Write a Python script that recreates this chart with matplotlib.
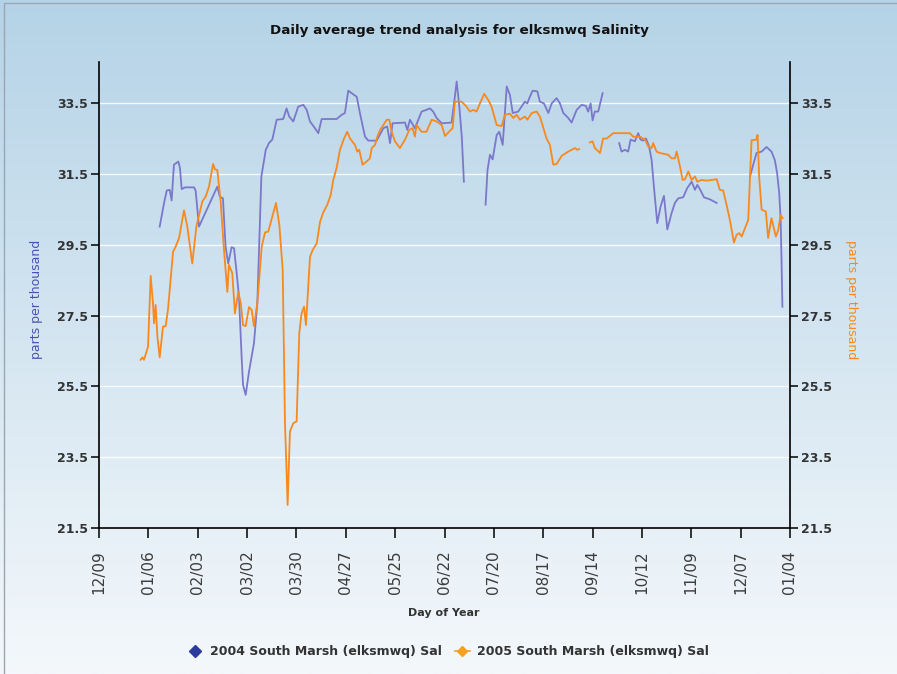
"""Daily average salinity trend chart (elksmwq, South Marsh 2004 vs 2005)."""

import matplotlib

matplotlib.use("Agg")
import matplotlib.pyplot as plt
from matplotlib.lines import Line2D
import numpy as np

nan = float("nan")

# x axis: days counted from 12/09, ticks every 28 days
tick_labels = ["12/09", "01/06", "02/03", "03/02", "03/30", "04/27", "05/25", "06/22",
               "07/20", "08/17", "09/14", "10/12", "11/09", "12/07", "01/04"]
y_ticks = [21.5, 23.5, 25.5, 27.5, 29.5, 31.5, 33.5]

# 2004 South Marsh (gaps marked with nan)
days_2004 = [34.4, 36.9, 38.4, 40.1, 41.2, 42.5, 45.0, 45.9, 46.9, 48.8,
             53.9, 54.8, 56.7, 67.1, 68.5, 70.3, 71.8, 73.3, 75.2, 76.6,
             77.9, 79.4, 80.9, 81.7, 83.2, 85.1, 87.9, 89.8, 92.1, 94.6,
             96.4, 98.3, 100.8, 104.5, 106.4, 107.9, 110.2, 113.0, 115.9, 117.8,
             119.7, 122.5, 124.4, 126.3, 134.8, 137.7, 139.5, 141.4, 143.3, 146.2,
             148.0, 150.9, 152.8, 157.5, 161.3, 163.5, 165.1, 166.5, 173.6, 174.9,
             176.4, 179.2, 183.0, 185.8, 187.7, 189.6, 191.5, 194.4, 200.0, 201.4,
             202.9, 204.4, 205.8, 207.0, 213.0,
             219.3, 220.4, 221.8, 223.3, 225.6, 227.1, 229.0, 231.3, 233.1, 234.7,
             237.8, 241.6, 243.0, 244.1, 246.0, 248.7, 250.1, 252.4, 254.9, 256.8,
             259.6, 261.5, 263.4, 266.2, 268.1, 271.0, 273.8, 276.2, 277.5, 278.9,
             280.0, 281.3, 283.2, 285.7, 290.0,
             295.1, 296.4, 298.4, 300.2, 301.6, 304.0, 305.9, 307.2, 308.7, 310.3,
             312.1, 313.5, 314.8, 316.7, 318.6, 320.5, 322.4, 324.8, 326.7, 328.6,
             331.4, 333.7, 336.2, 338.1, 339.4, 340.9, 343.2, 346.6, 350.4, 360.0,
             369.3, 373.0, 375.9, 378.7, 381.5, 383.4, 384.7, 385.9, 386.7, 387.2,
             387.7]
sal_2004 = [30.01, 30.68, 31.03, 31.05, 30.75, 31.76, 31.85, 31.67, 31.07, 31.12,
            31.12, 31.03, 30.01, 31.14, 30.86, 30.81, 29.45, 28.97, 29.43, 29.40,
            28.79, 28.04, 26.33, 25.54, 25.26, 25.92, 26.72, 27.85, 31.43, 32.18,
            32.37, 32.47, 33.03, 33.05, 33.35, 33.12, 32.98, 33.40, 33.45, 33.31,
            32.98, 32.79, 32.65, 33.05, 33.05, 33.17, 33.22, 33.85, 33.78, 33.68,
            33.22, 32.55, 32.44, 32.44, 32.79, 32.84, 32.37, 32.93, 32.95, 32.74,
            33.03, 32.79, 33.26, 33.31, 33.35, 33.26, 33.08, 32.93, 32.95, 33.49,
            34.11, 33.40, 32.55, 31.28, nan,
            30.63, 31.61, 32.04, 31.91, 32.60, 32.69, 32.32, 33.97, 33.73, 33.22,
            33.26, 33.54, 33.49, 33.64, 33.85, 33.83, 33.54, 33.49, 33.22, 33.49,
            33.64, 33.49, 33.22, 33.08, 32.95, 33.31, 33.45, 33.42, 33.26, 33.49,
            33.01, 33.26, 33.26, 33.78, nan,
            32.37, 32.13, 32.18, 32.13, 32.47, 32.42, 32.65, 32.47, 32.44, 32.50,
            32.27, 31.89, 31.14, 30.11, 30.58, 30.88, 29.93, 30.39, 30.68, 30.81,
            30.84, 31.10, 31.28, 31.05, 31.19, 31.07, 30.84, 30.78, 30.68, nan,
            31.43, 32.09, 32.13, 32.26, 32.13, 31.89, 31.52, 30.95, 30.20, 29.07,
            27.75]

# 2005 South Marsh
days_2005 = [23.6, 24.6, 25.5, 27.8, 29.3, 30.6, 31.2, 32.1, 33.1, 34.4,
             36.3, 37.8, 39.1, 42.0, 43.5, 45.4, 48.2, 50.1, 52.9, 55.2,
             58.6, 60.5, 62.4, 64.7, 65.8, 67.1, 69.0, 70.9, 72.8, 73.7,
             75.6, 77.1, 79.0, 80.4, 81.7, 83.2, 85.1, 86.6, 87.9, 89.8,
             92.3, 94.2, 96.0, 98.3, 100.4, 102.3, 104.2, 105.5, 107.0, 108.3,
             110.2, 112.1, 113.6, 114.9, 116.3, 117.4, 119.7, 121.2, 123.5, 125.4,
             127.2, 129.5, 131.4, 132.9, 134.8, 136.7, 139.0, 140.8, 142.4, 145.2,
             146.5, 147.6, 149.5, 151.8, 153.7, 154.7, 156.6, 157.9, 159.4, 161.3,
             163.2, 164.7, 166.0, 167.9, 170.7, 173.6, 176.0, 177.9, 179.2, 180.1,
             183.0, 185.8, 188.7, 191.5, 194.4, 196.3, 199.1, 200.6, 201.9, 205.7,
             208.5, 210.4, 212.3, 214.2, 216.1, 218.5, 220.8, 222.7, 225.6, 228.4,
             230.3, 233.1, 235.0, 236.9, 238.8, 241.6, 243.0, 245.5, 248.3, 250.1,
             253.9, 255.8, 257.7, 259.6, 262.5, 266.2, 268.1, 270.0, 271.3, 272.4,
             275.0,
             278.5, 280.0, 281.3, 284.2, 286.0, 288.0, 289.8, 291.7, 301.2, 303.1,
             306.9, 309.8, 311.6, 313.5, 314.4, 316.3, 318.2, 322.9, 324.8, 326.7,
             327.7, 329.6, 331.1, 332.4, 334.3, 336.2, 338.1, 339.4, 341.8, 344.7,
             350.4, 352.2, 354.1, 356.0, 357.9, 360.2, 361.7, 363.2, 364.6, 366.4,
             368.3, 370.2, 373.0, 373.6, 374.5, 375.9, 378.3, 379.6, 381.5, 384.0,
             385.3, 386.7, 387.8]
sal_2005 = [26.25, 26.32, 26.25, 26.62, 28.62, 27.85, 27.28, 27.80, 26.91, 26.32,
            27.19, 27.20, 27.66, 29.30, 29.45, 29.69, 30.47, 30.01, 28.97, 30.01,
            30.72, 30.86, 31.14, 31.78, 31.63, 31.61, 30.72, 29.35, 28.17, 28.93,
            28.70, 27.56, 28.17, 27.85, 27.23, 27.20, 27.74, 27.66, 27.20, 27.85,
            29.45, 29.85, 29.87, 30.29, 30.68, 30.06, 28.79, 24.46, 22.15, 24.22,
            24.46, 24.51, 27.00, 27.56, 27.75, 27.23, 29.16, 29.35, 29.54, 30.15,
            30.41, 30.63, 30.90, 31.33, 31.67, 32.18, 32.50, 32.69, 32.50, 32.32,
            32.13, 32.18, 31.76, 31.85, 31.94, 32.23, 32.32, 32.55, 32.74, 32.88,
            33.03, 33.03, 32.69, 32.42, 32.23, 32.47, 32.74, 32.79, 32.55, 32.88,
            32.69, 32.69, 33.03, 32.98, 32.88, 32.57, 32.72, 32.79, 33.54, 33.54,
            33.40, 33.26, 33.31, 33.26, 33.49, 33.76, 33.59, 33.40, 32.88, 32.85,
            33.17, 33.20, 33.08, 33.17, 33.03, 33.12, 33.03, 33.22, 33.26, 33.12,
            32.50, 32.32, 31.76, 31.78, 32.01, 32.13, 32.18, 32.23, 32.18, 32.20,
            nan,
            32.39, 32.42, 32.23, 32.09, 32.50, 32.50, 32.57, 32.65, 32.65, 32.55,
            32.55, 32.47, 32.27, 32.23, 32.37, 32.13, 32.09, 32.04, 31.94, 31.94,
            32.13, 31.71, 31.33, 31.35, 31.57, 31.33, 31.43, 31.28, 31.33, 31.31,
            31.35, 31.05, 31.03, 30.63, 30.20, 29.56, 29.78, 29.83, 29.73, 29.96,
            30.20, 32.45, 32.47, 32.60, 31.43, 30.49, 30.44, 29.69, 30.25, 29.73,
            29.91, 30.34, 30.25]

BLUE = "#7b78cc"
ORANGE = "#f7891e"
TEXT = "#333333"

fig = plt.figure(figsize=(8.97, 6.74), dpi=100)

# soft blue-to-white background
bg = fig.add_axes([0, 0, 1, 1], zorder=0)
grad = np.linspace(0, 1, 256)[:, None]
top = np.array([181, 211, 231]) / 255
bottom = np.array([244, 248, 251]) / 255
bg.imshow(top + grad[..., None] * (bottom - top), aspect="auto", extent=[0, 1, 0, 1])
bg.plot([0.004, 0.004, 1], [0, 0.995, 0.995], color="#9aa6b0", lw=1.0)
bg.set_xlim(0, 1)
bg.set_ylim(0, 1)
bg.axis("off")

ax = fig.add_axes([0.1104, 0.2166, 0.7703, 0.6914], zorder=1)
ax.patch.set_alpha(0)
ax.plot(days_2004, sal_2004, color=BLUE, lw=1.3, zorder=3)
ax.plot(days_2005, sal_2005, color=ORANGE, lw=1.3, zorder=4)

xt = np.arange(len(tick_labels)) * 28
ax.set_xlim(xt[0], xt[-1])
ax.set_ylim(21.5, 34.66)
ax.set_xticks(xt)
ax.set_xticklabels(tick_labels, rotation=90, fontsize=11, color="#3c3c3c")
ax.set_yticks(y_ticks)
ax.set_yticklabels([f"{v:.1f}" for v in y_ticks], fontsize=9, fontweight="bold", color=TEXT)
ax.yaxis.grid(True, color="white", lw=1.0, alpha=0.85)
ax.set_axisbelow(True)
ax.tick_params(axis="y", length=6, width=1.1, color="black", pad=2)
ax.tick_params(axis="x", length=7, width=1.1, color="black", pad=9)
ax.spines["top"].set_visible(False)
ax.spines["right"].set_visible(False)
for s in ["left", "bottom"]:
    ax.spines[s].set_linewidth(1.2)

ax.set_xlabel("Day of Year", fontsize=8, fontweight="bold", color=TEXT)
ax.xaxis.set_label_coords(0.499, -0.172)
ax.set_ylabel("parts per thousand", fontsize=9, color="#4a52b0")
ax.yaxis.set_label_coords(-0.081, 0.49)

ax2 = ax.twinx()
ax2.set_ylim(ax.get_ylim())
ax2.set_yticks(y_ticks)
ax2.set_yticklabels([f"{v:.1f}" for v in y_ticks], fontsize=9, fontweight="bold", color=TEXT)
ax2.tick_params(axis="y", length=6, width=1.1, color="black", pad=2)
for s in ["top", "left", "bottom"]:
    ax2.spines[s].set_visible(False)
ax2.spines["right"].set_linewidth(1.2)
ax2.set_ylabel("parts per thousand", fontsize=9, color=ORANGE, rotation=270)
ax2.yaxis.set_label_coords(1.099, 0.49)

fig.text(0.512, 0.955, "Daily average trend analysis for elksmwq Salinity",
         ha="center", va="center", fontsize=9.7, fontweight="bold", color="#111111")

handles = [
    Line2D([], [], color="#2b3a9c", marker="D", markersize=6, lw=0),
    Line2D([], [], color="#f5a020", marker="D", markersize=5, lw=1.2),
]
labels = ["2004 South Marsh (elksmwq) Sal", "2005 South Marsh (elksmwq) Sal"]
fig.legend(handles, labels, loc="center", bbox_to_anchor=(0.5, 0.033), ncol=2,
           frameon=False, handlelength=1.2, handletextpad=0.6, columnspacing=1.0,
           prop={"size": 9, "weight": "bold"}, labelcolor=TEXT)

fig.savefig("out.png", dpi=100)
